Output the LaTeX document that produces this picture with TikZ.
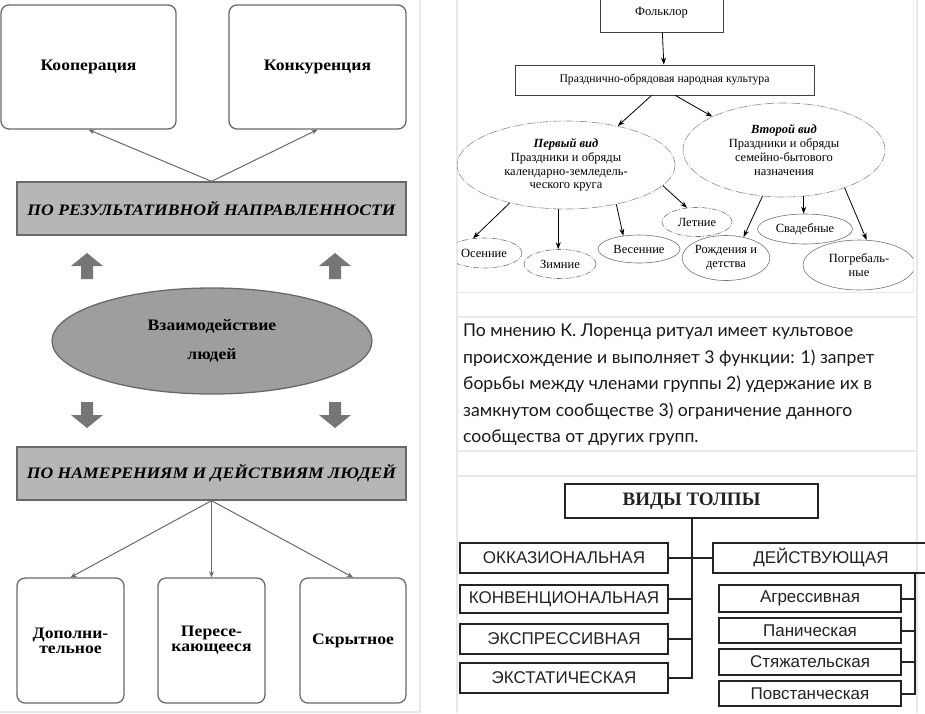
\documentclass[tikz,border=0pt]{standalone}
\usepackage{fontspec}
\setmainfont{Liberation Serif}
\newfontfamily\schemefont{Liberation Serif}[FakeStretch=1.1]
\newfontfamily\crowdfont{Liberation Sans}
\newfontfamily\notefont{Lato}
\usetikzlibrary{arrows.meta,shapes.geometric,calc}
\definecolor{sepgray}{RGB}{232,232,232}
\definecolor{edgegray}{RGB}{105,105,105}
\definecolor{barfill}{RGB}{182,182,182}
\definecolor{ovalfill}{RGB}{158,158,158}
\definecolor{blockgray}{RGB}{118,118,118}
\definecolor{inkdark}{RGB}{35,35,35}
\def\blockarrow(#1)[#2]{\fill[blockgray,shift={(#1)},rotate=#2] (-6,0) -- (-6,-13) -- (-16,-13) -- (0,-26) -- (16,-13) -- (6,-13) -- (6,0) -- cycle;}
\tikzset{
	roundbox/.style={draw=edgegray,line width=1.3pt,rounded corners=8pt,align=center,font=\schemefont\bfseries\fontsize{16}{15}\selectfont},
	graybar/.style={draw=edgegray,fill=barfill,line width=1.3pt,minimum width=389pt,minimum height=53pt,font=\schemefont\bfseries\itshape\fontsize{16}{16}\selectfont},
	thinarrow/.style={draw=edgegray,line width=1pt,-{Stealth[length=6pt,width=5pt]}},
	folkbox/.style={draw=black!75,line width=0.8pt,font=\fontsize{12.5}{14}\selectfont},
	folkarrow/.style={black,line width=0.8pt,-{Stealth[length=7pt,width=5pt]}},
	bigoval/.style={ellipse,draw=black!45,line width=0.6pt,dash pattern=on 9pt off 1.5pt on 1pt off 1.5pt,inner sep=0pt,align=center,font=\fontsize{12.5}{13.8}\selectfont},
	smalloval/.style={ellipse,draw=black!55,line width=0.6pt,inner sep=0pt,align=center,font=\fontsize{12.5}{14}\selectfont},
	dotoval/.style={smalloval,dash pattern=on 6pt off 1.5pt on 1pt off 1.5pt},
	crowdbox/.style={draw=inkdark,line width=2pt,text=inkdark,font=\crowdfont\fontsize{17}{17}\selectfont},
	crowdline/.style={draw=inkdark,line width=2pt},
}
\begin{document}
\begin{tikzpicture}[x=1pt,y=-1pt]
		%%%%% START %%%%%
		\useasboundingbox (0,0) rectangle (925,713);
		\clip (0,0) rectangle (925,713);
		\fill[white] (0,0) rectangle (925,713);
		
		% panel borders
		\draw[sepgray,line width=1.2pt] (420,0) -- (420,712) -- (0,712);
		\draw[sepgray,line width=1.2pt] (457,0) -- (457,713);
		\draw[sepgray,line width=1.2pt] (917,0) -- (917,713);
		\draw[sepgray,line width=1pt] (457,292) -- (913,292) -- (913,0);
		\draw[sepgray,line width=1.2pt] (457,317) -- (917,317);
		\draw[sepgray,line width=1.2pt] (457,451) -- (917,451);
		\draw[sepgray,line width=1.2pt] (457,476) -- (917,476);
		
		% interaction scheme
		\node[roundbox,minimum width=175pt,minimum height=124pt] (koop) at (88.5,67) {Кооперация};
		\node[roundbox,minimum width=177pt,minimum height=124pt] (konk) at (317.5,67) {Конкуренция};
		\node[graybar] (result) at (211.5,208.5) {ПО РЕЗУЛЬТАТИВНОЙ НАПРАВЛЕННОСТИ};
		\draw[thinarrow] (result.north) -- (koop.south);
		\draw[thinarrow] (result.north) -- (konk.south);
		
		\blockarrow(87,279)[0]
		\blockarrow(335,279)[0]
		\node[ellipse,draw=edgegray,fill=ovalfill,line width=1.3pt,minimum width=320pt,minimum height=106pt,align=center,font=\schemefont\bfseries\fontsize{16}{29}\selectfont] (vzaim) at (212,341) {Взаимодействие\\людей};
		\blockarrow(87,402)[180]
		\blockarrow(335,402)[180]
		
		\node[graybar] (namer) at (211.5,473.5) {ПО НАМЕРЕНИЯМ И ДЕЙСТВИЯМ ЛЮДЕЙ};
		\node[roundbox,minimum width=107pt,minimum height=125pt] (dop) at (70.5,640.5) {Дополни-\\тельное};
		\node[roundbox,minimum width=107pt,minimum height=125pt] (peres) at (211.5,640.5) {Пересе-\\кающееся};
		\node[roundbox,minimum width=106pt,minimum height=125pt] (skryt) at (353,640.5) {Скрытное};
		\draw[thinarrow] (namer.south) -- (dop.north);
		\draw[thinarrow] (namer.south) -- (peres.north);
		\draw[thinarrow] (namer.south) -- (skryt.north);
		
		% folklore scheme
		\begin{scope}
			\clip (457,0) rectangle (913,292);
			\node[folkbox,minimum width=123pt,minimum height=38pt] (folk) at (661.5,13) {Фольклор};
			\node[folkbox,minimum width=299pt,minimum height=30pt,font=\fontsize{11.7}{14}\selectfont] (prazd) at (664.5,80) {Празднично-обрядовая народная культура};
			\draw[folkarrow] (folk) -- (prazd);
			
			\node[bigoval,minimum width=218pt,minimum height=88pt] (first) at (566,165) {\textbf{\textit{Первый вид}}\\Праздники и обряды\\календарно-земледель-\\ческого круга};
			\node[bigoval,minimum width=202pt,minimum height=94pt] (second) at (784,150) {\textbf{\textit{Второй вид}}\\Праздники и обряды\\семейно-бытового\\назначения};
			\draw[folkarrow] (prazd.230) -- (first.37);
			\draw[folkarrow] (prazd.305) -- (second.155);
			
			\node[dotoval,minimum width=76pt,minimum height=30pt] (osen) at (484,253) {Осенние};
			\node[dotoval,minimum width=72pt,minimum height=29pt] (zim) at (560,264) {Зимние};
			\node[smalloval,minimum width=82pt,minimum height=28pt] (vesen) at (639,249) {Весенние};
			\node[dotoval,minimum width=70pt,minimum height=29pt] (letn) at (697,222) {Летние};
			\node[smalloval,minimum width=95pt,minimum height=30pt] (svad) at (805,229) {Свадебные};
			\node[smalloval,minimum width=82pt,minimum height=45pt] (rozhd) at (726,258) {Рождения и\\детства};
			\node[smalloval,minimum width=112pt,minimum height=50pt] (pogreb) at (859,265) {Погребаль-\\ные};
			
			\draw[folkarrow] (first.214) -- (osen.127);
			\draw[folkarrow] (first.260) -- (first.260 |- zim.north);
			\draw[folkarrow] (first.322) -- (vesen.140);
			\draw[folkarrow] (first.348) -- (letn.125);
			\draw[folkarrow] (second.245) -- (rozhd.50);
			\draw[folkarrow] (second.293) -- (second.293 |- svad.north);
			\draw[folkarrow] (second.328) -- (pogreb.73);
		\end{scope}
		
		% note
		\node[anchor=north west,align=left,inner sep=0pt,text=black!90,font=\notefont\fontsize{17.6}{26.5}\selectfont] (lorenz) at (463,324) {По мнению К. Лоренца ритуал имеет культовое\\происхождение и выполняет 3 функции: 1) запрет\\борьбы между членами группы 2) удержание их в\\замкнутом сообществе 3) ограничение данного\\сообщества от других групп.};
		
		% crowd scheme
		\node[crowdbox,minimum width=253pt,minimum height=34pt,font=\bfseries\fontsize{19}{19}\selectfont] (vidy) at (691.5,501) {ВИДЫ ТОЛПЫ};
		\node[crowdbox,minimum width=208pt,minimum height=30pt] (okkaz) at (564,558) {ОККАЗИОНАЛЬНАЯ};
		\node[crowdbox,minimum width=208pt,minimum height=28pt] (konv) at (564,599) {КОНВЕНЦИОНАЛЬНАЯ};
		\node[crowdbox,minimum width=208pt,minimum height=30pt] (expr) at (564,639) {ЭКСПРЕССИВНАЯ};
		\node[crowdbox,minimum width=208pt,minimum height=30pt] (extat) at (564,678) {ЭКСТАТИЧЕСКАЯ};
		\node[crowdbox,minimum width=216pt,minimum height=30pt] (deistv) at (821,558) {ДЕЙСТВУЮЩАЯ};
		\node[crowdbox,minimum width=182pt,minimum height=27pt] (aggr) at (810,598.5) {Агрессивная};
		\node[crowdbox,minimum width=182pt,minimum height=25pt] (panic) at (810,630.5) {Паническая};
		\node[crowdbox,minimum width=182pt,minimum height=26pt] (styazh) at (810,662) {Стяжательская};
		\node[crowdbox,minimum width=182pt,minimum height=25pt] (povst) at (810,693.5) {Повстанческая};
		\coordinate (rspine) at (915,0);
		
		\draw[crowdline] (vidy.south) -- (vidy.south |- extat.east) -- (extat.east);
		\draw[crowdline] (okkaz.east) -- (deistv.west);
		\draw[crowdline] (konv.east) -- (konv.east -| vidy.south);
		\draw[crowdline] (expr.east) -- (expr.east -| vidy.south);
		\draw[crowdline] (deistv.south -| rspine) -- (rspine |- povst.east) -- (povst.east);
		\draw[crowdline] (aggr.east) -- (aggr.east -| rspine);
		\draw[crowdline] (panic.east) -- (panic.east -| rspine);
		\draw[crowdline] (styazh.east) -- (styazh.east -| rspine);
		%%%%% END %%%%%
	\end{tikzpicture}
\end{document}
